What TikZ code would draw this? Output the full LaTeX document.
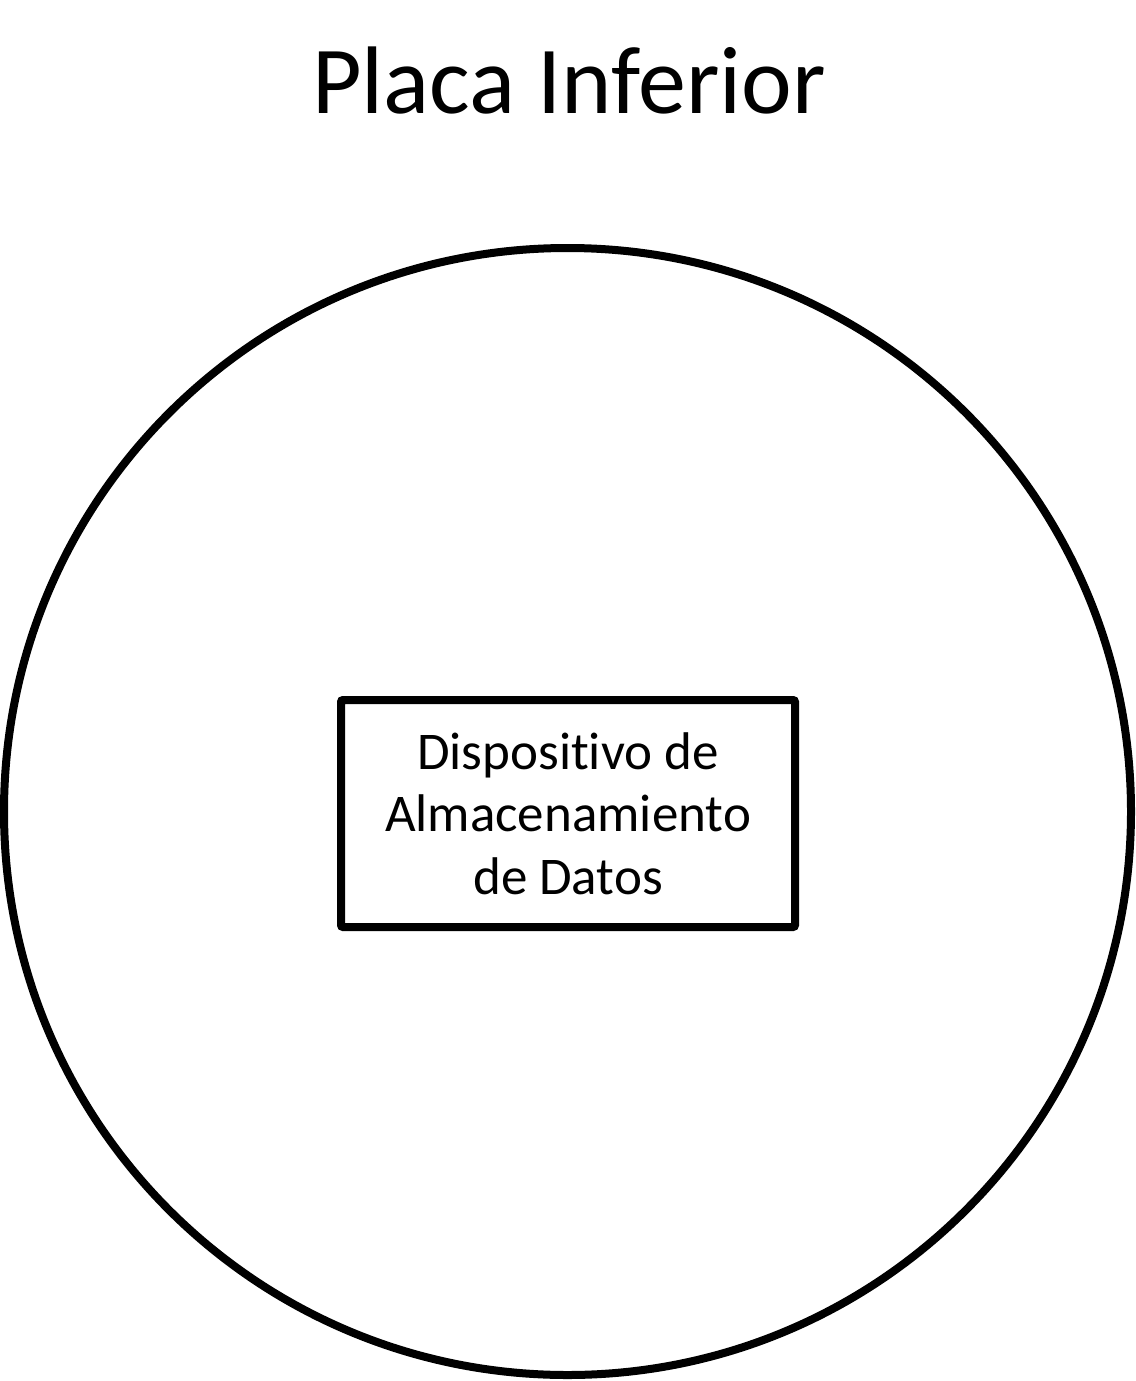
\documentclass[tikz,border=0pt]{standalone}
\usepackage{fontspec}
\setmainfont{Carlito}[Ligatures=NoCommon,RawFeature=-liga]
\begin{document}
\begin{tikzpicture}[x=1pt,y=-1pt,
  plate/.style={draw=black,line width=8pt},
  devbox/.style={draw=black,line width=8pt,rounded corners=2pt,minimum width=454pt,minimum height=227pt,inner sep=0pt,align=center,font=\fontsize{53}{62.5}\selectfont},
  titletext/.style={font=\fontsize{96}{110}\selectfont,inner sep=0pt,anchor=base}]
\useasboundingbox (0,0) rectangle (1135,1381);
\node[titletext] (title) at (569,113.5) {Placa Inferior};
\node[plate,circle,minimum size=1127pt,inner sep=0pt] (plate) at (567.5,811.5) {};
\node[devbox] (dev) at (568,813.5) {Dispositivo de\\Almacenamiento\\de Datos};
\end{tikzpicture}
\end{document}
